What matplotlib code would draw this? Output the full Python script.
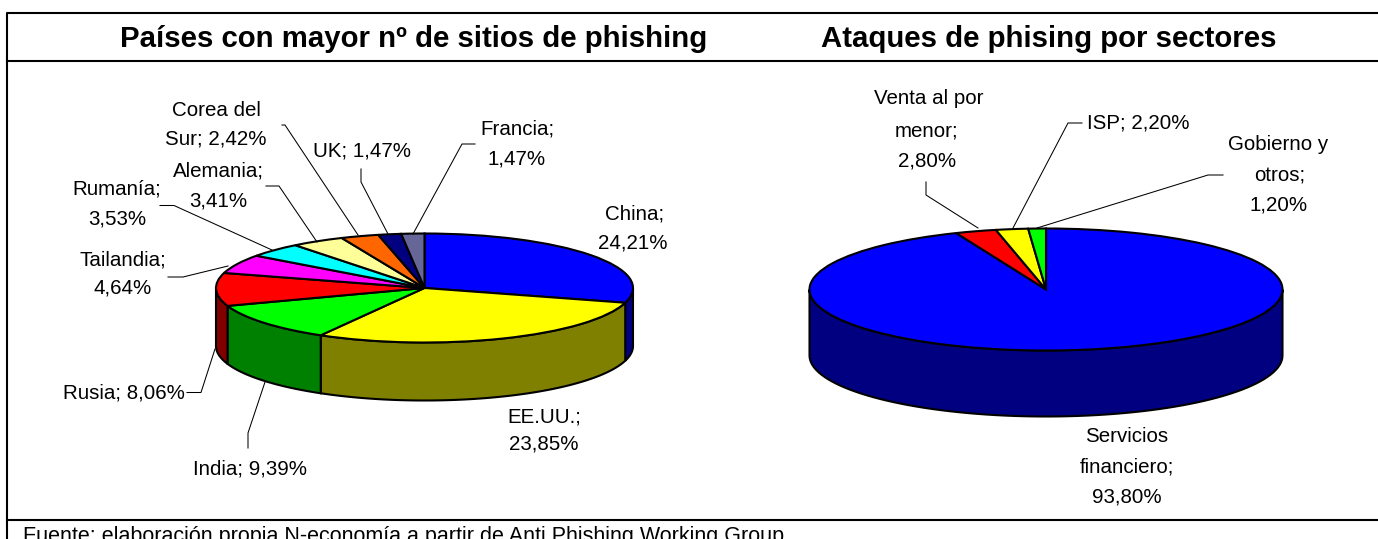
import numpy as np
import matplotlib
matplotlib.use("Agg")
import matplotlib.pyplot as plt
from matplotlib.colors import to_rgb

plt.rcParams['font.family'] = ['Liberation Sans', 'DejaVu Sans']

W, H = 1378, 539

# datos
paises = ['China', 'EE.UU.', 'India', 'Rusia', 'Tailandia', 'Rumanía',
          'Alemania', 'Corea del Sur', 'UK', 'Francia']
paises_pct = [24.21, 23.85, 9.39, 8.06, 4.64, 3.53, 3.41, 2.42, 1.47, 1.47]
paises_col = ['#0000ff', '#ffff00', '#00ff00', '#ff0000', '#ff00ff', '#00ffff',
              '#ffff99', '#ff6600', '#000080', '#666699']

sectores = ['Servicios financiero', 'Venta al por menor', 'ISP', 'Gobierno y otros']
sectores_pct = [93.80, 2.80, 2.20, 1.20]
sectores_col = ['#0000ff', '#ff0000', '#ffff00', '#00ff00']

titulos = ['Países con mayor nº de sitios de phishing', 'Ataques de phising por sectores']
fuente = 'Fuente: elaboración propia N-economía a partir de Anti Phishing Working Group.'


def etiqueta(nombre, pct):
    return nombre + '; ' + f'{pct:.2f}'.replace('.', ',') + '%'


def pie_3d(fig, cx, cy, rx, ry, depth, valores, colores):
    # eje en pixeles del dibujo, el circulo unidad queda aplastado en elipse
    d = depth / ry
    ax = fig.add_axes([(cx - rx) / W, 1 - (cy + ry + depth) / H, 2 * rx / W, (2 * ry + depth) / H])
    wedges, _ = ax.pie(valores, colors=colores, startangle=90, counterclock=False,
                       wedgeprops=dict(edgecolor='black', linewidth=1.5, clip_on=False, zorder=3))
    ax.set_aspect('auto')
    ax.set_xlim(-1, 1)
    ax.set_ylim(-1 - d, 1)
    # pared lateral, solo la parte delantera
    for w, c in zip(wedges, colores):
        for off in (-360, 0, 360):
            lo = max(w.theta1 + off, 180)
            hi = min(w.theta2 + off, 360)
            if hi <= lo:
                continue
            t = np.radians(np.linspace(lo, hi, 80))
            x = np.cos(t)
            y = np.sin(t)
            oscuro = tuple(v * 0.5 for v in to_rgb(c))
            ax.fill(np.r_[x, x[::-1]], np.r_[y, y[::-1] - d], facecolor=oscuro,
                    edgecolor='black', linewidth=1.5, clip_on=False, zorder=2)
    return ax


fig = plt.figure(figsize=(W / 100, H / 100), dpi=100, facecolor='white')

pie_3d(fig, 424.5, 288, 208.5, 54.5, 58, paises_pct, paises_col)
pie_3d(fig, 1046, 289.5, 236.5, 61, 66, sectores_pct, sectores_col)

# capa en pixeles para marco, textos y guias
ov = fig.add_axes([0, 0, 1, 1], zorder=5)
ov.set_xlim(0, W)
ov.set_ylim(H, 0)
ov.axis('off')
ov.patch.set_alpha(0)

# marco, a la derecha se sale de la imagen
ov.plot([1378, 7, 7], [13, 13, 539], color='black', lw=1.5, clip_on=False)
ov.plot([7, 1378], [61, 61], color='black', lw=1.5)
ov.plot([7, 1378], [520, 520], color='black', lw=1.5)

ov.text(413.5, 47, titulos[0], fontsize=21.2, fontweight='bold', ha='center', va='baseline')
ov.text(1048.5, 47, titulos[1], fontsize=21.2, fontweight='bold', ha='center', va='baseline')
ov.text(23, 542, fuente, fontsize=15.5, ha='left', va='baseline')

lbl_size = 14.8


def lineas(texto, cortes):
    # parte la etiqueta en los puntos indicados
    res = []
    for c in cortes:
        i = texto.index(c) + len(c)
        res.append(texto[:i].strip())
        texto = texto[i:]
    res.append(texto.strip())
    return res


# centro x de cada linea, centro y de cada linea, cortes
paises_layout = [
    ([635, 633], [213, 242], [';']),
    ([544, 544], [416, 443], [';']),
    ([250], [468], []),
    ([124], [392], []),
    ([123, 123], [259, 287], [';']),
    ([117, 117], [188, 218], [';']),
    ([218, 218], [170, 200], [';']),
    ([216, 216], [110, 138], ['del']),
    ([362], [150], []),
    ([517, 517], [128, 158], [';']),
]
sectores_layout = [
    ([1127, 1127, 1127], [435, 466, 496], ['Servicios', ';']),
    ([929, 927, 927], [98, 130, 160], ['por', ';']),
    ([1138], [122], []),
    ([1278, 1280, 1279], [144, 175, 204], [' y', ';']),
]

for nombres, vals, layout in [(paises, paises_pct, paises_layout),
                              (sectores, sectores_pct, sectores_layout)]:
    for n, v, (xs, ys, cortes) in zip(nombres, vals, layout):
        for s, x, y in zip(lineas(etiqueta(n, v), cortes), xs, ys):
            ov.text(x, y + 6.5, s, fontsize=lbl_size, ha='center', va='baseline')

# lineas guia
guias = [
    [(282, 125), (285, 125), (358, 235)],
    [(266, 186), (279, 186), (317, 242)],
    [(160, 205.5), (174, 205.5), (272, 250)],
    [(168, 277), (183, 277), (228, 266)],
    [(187, 392.5), (201, 392.5), (215, 349)],
    [(248, 448), (248, 433), (265, 382)],
    [(361, 169), (361, 182), (388, 234)],
    [(475, 144), (462, 144), (413, 234)],
    [(926, 182), (926, 195), (978, 228)],
    [(1082, 123), (1068, 123), (1013, 228)],
    [(1223, 175), (1208, 175), (1037, 228)],
]
for g in guias:
    xs, ys = zip(*g)
    ov.plot(xs, ys, color='black', lw=0.75)

fig.savefig('out.png', dpi=100)
